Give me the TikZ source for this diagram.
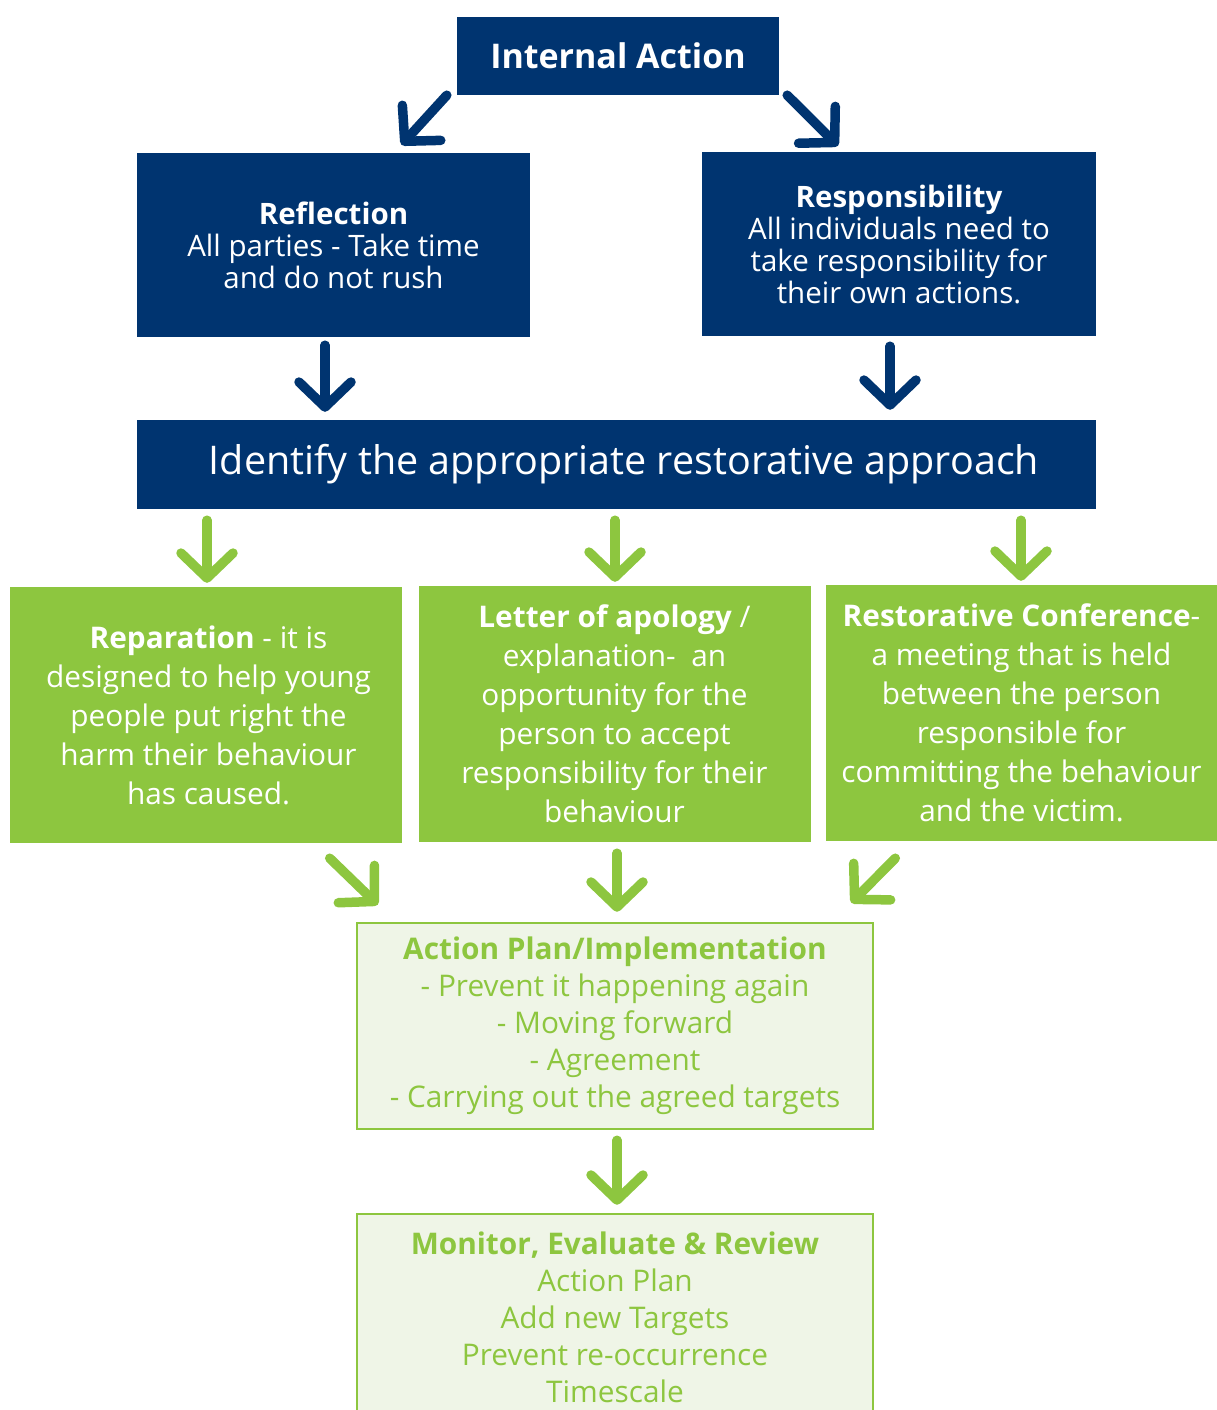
\documentclass[tikz,border=0pt]{standalone}
\usepackage{fontspec}
\setmainfont{Open Sans}
\usetikzlibrary{arrows.meta,calc}
\definecolor{navy}{HTML}{003470}
\definecolor{leaf}{HTML}{8DC63F}
\definecolor{pale}{HTML}{EFF5E7}
\tikzset{
    bluebox/.style={fill=navy, text=white, inner sep=0pt, align=center},
    greenbox/.style={fill=leaf, text=white, inner sep=0pt, align=center,
        minimum width=392pt, minimum height=256pt, font=\fontsize{29.8}{39}\selectfont},
    palebox/.style={fill=pale, draw=leaf, line width=2.5pt, text=leaf, inner sep=0pt, align=center,
        minimum width=516pt, minimum height=206pt, font=\fontsize{29.8}{37}\selectfont},
    bluearr/.style={draw=navy, line width=9.5pt, line cap=round,
        -{Straight Barb[length=25pt, width=52pt, round]}},
    greenarr/.style={bluearr, draw=leaf},
}
\begin{document}
\begin{tikzpicture}[x=1pt, y=-1pt]
                \useasboundingbox (0,0) rectangle (1217,1410);
                \clip (0,0) rectangle (1217,1410);
                \node[bluebox, minimum width=322pt, minimum height=78pt,
                    font=\bfseries\fontsize{34}{40}\selectfont] (int) at (618,56) {Internal Action};
                \node[bluebox, minimum width=393pt, minimum height=184pt,
                    font=\fontsize{29.5}{32}\selectfont] (refl) at (333.5,245)
                    {\textbf{Reflection}\\All parties - Take time\\and do not rush};
                \node[bluebox, minimum width=394pt, minimum height=184pt,
                    font=\fontsize{29.5}{32}\selectfont] (resp) at (899,244)
                    {\textbf{Responsibility}\\All individuals need to\\take responsibility for\\their own actions.};
                \node[bluebox, minimum width=959pt, minimum height=89pt,
                    font=\fontsize{39.5}{46}\selectfont] (ident) at (616.5,464.5)
                    {\hspace*{15pt}Identify the appropriate restorative approach};
                \node[greenbox] (rep) at (205.5,715)
                    {\hspace*{6pt}\textbf{Reparation} - it is\\\hspace*{6pt}designed to help young\\\hspace*{6pt}people put right the\\\hspace*{6pt}harm their behaviour\\\hspace*{6pt}has caused.};
                \node[greenbox] (letter) at (614.5,714)
                    {\textbf{Letter of apology} /\\explanation-~~an\\opportunity for the\\person to accept\\responsibility for their\\behaviour};
                \node[greenbox] (conf) at (1021.5,713)
                    {\textbf{Restorative Conference}-\\a meeting that is held\\between the person\\responsible for\\committing the behaviour\\and the victim.};
                \node[palebox] (plan) at (615,1026)
                    {\textbf{Action Plan/Implementation}\\- Prevent it happening again\\- Moving forward\\- Agreement\\- Carrying out the agreed targets};
                \node[palebox] (mon) at (615,1317)
                    {\textbf{Monitor, Evaluate \& Review}\\Action Plan\\Add new Targets\\Prevent re-occurrence\\Timescale};
                \draw[bluearr] ([xshift=-10pt]int.south west) -- ([shift={(68,-8)}]refl.north);
                \draw[bluearr] ([xshift=8pt]int.south east) -- ([shift={(-61,-6)}]resp.north);
                \draw[bluearr] ([shift={(-8.5,8)}]refl.south) -- ($(ident.north -| refl.south)+(-8.5,-8)$);
                \draw[bluearr] ([shift={(-9,10)}]resp.south) -- ($(ident.north -| resp.south)+(-9,-10)$);
                \draw[greenarr] ($(ident.south -| rep.north)+(1.5,11)$) -- ([shift={(1.5,-4)}]rep.north);
                \draw[greenarr] ($(ident.south -| letter.north)+(0.5,11)$) -- ([shift={(0.5,-4)}]letter.north);
                \draw[greenarr] ($(ident.south -| conf.north)+(-0.5,11)$) -- ([shift={(-0.5,-4)}]conf.north);
                \draw[greenarr] ([shift={(-72,15)}]rep.south east) -- ([shift={(22,-17)}]plan.north west);
                \draw[greenarr] ([shift={(2.5,11)}]letter.south) -- ([shift={(2,-10)}]plan.north);
                \draw[greenarr] ([shift={(70,17)}]conf.south west) -- ([shift={(-23,-19)}]plan.north east);
                \draw[greenarr] ([shift={(2,10)}]plan.south) -- ([shift={(2,-8)}]mon.north);
\end{tikzpicture}
\end{document}
